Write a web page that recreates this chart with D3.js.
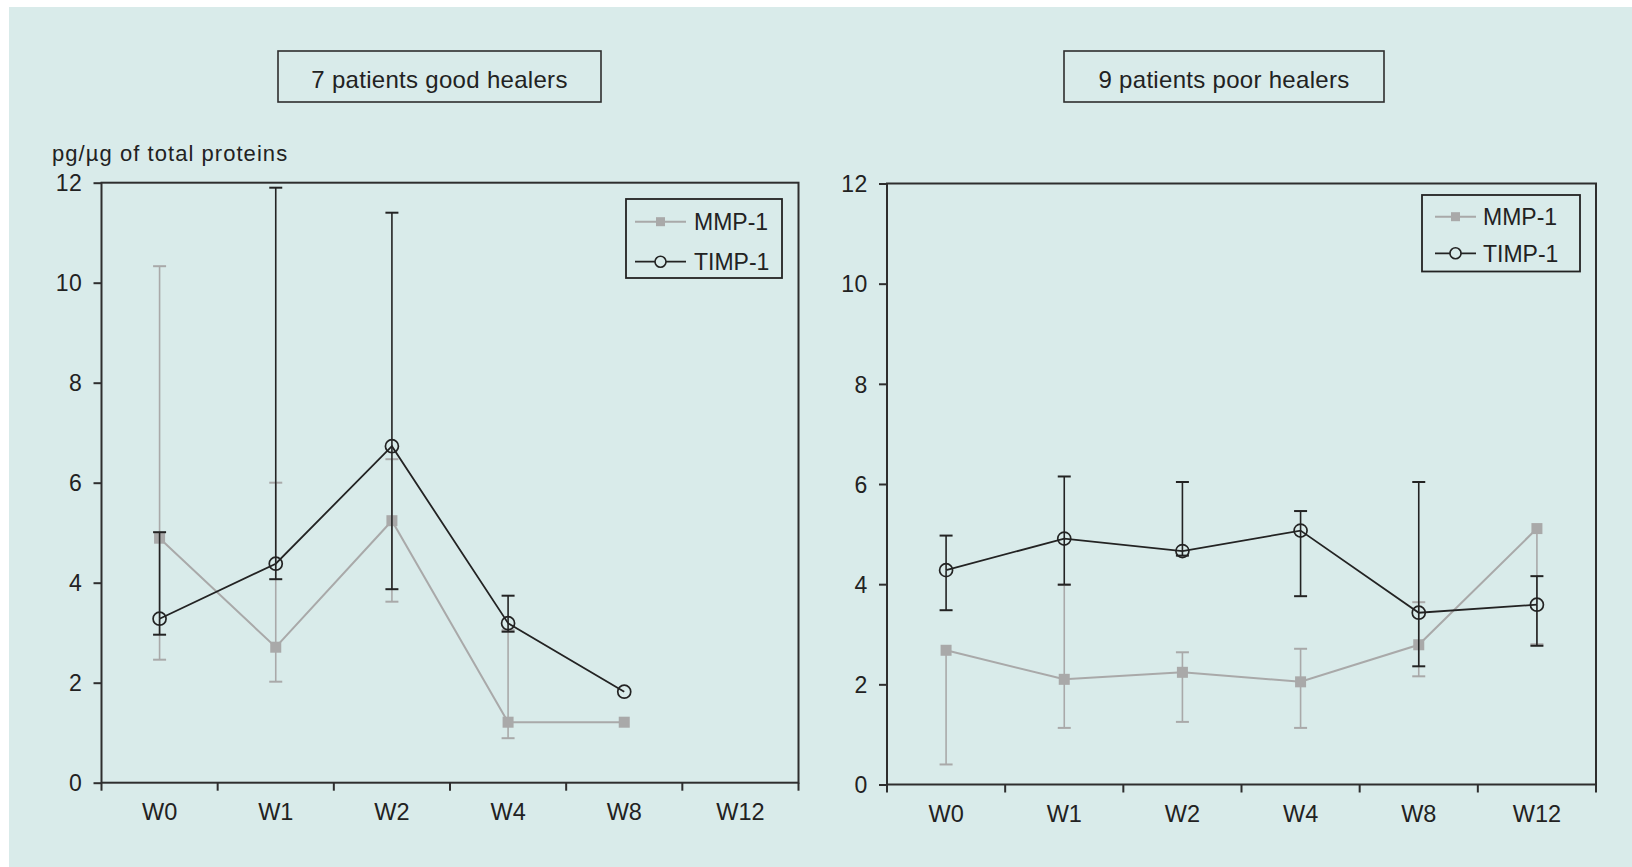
<!DOCTYPE html>
<html>
<head>
<meta charset="utf-8">
<script src="https://cdn.jsdelivr.net/npm/d3@7"></script>
<style>
  html, body { margin: 0; padding: 0; background: #ffffff; }
  svg { display: block; }
  text { font-family: "Liberation Sans", Arial, Helvetica, sans-serif; fill: #222222; }
</style>
</head>
<body>
<svg id="chart" width="1632" height="867"></svg>
<script>
// ---------- DATA ----------
const categories = ["W0", "W1", "W2", "W4", "W8", "W12"];
const yTickValues = [0, 2, 4, 6, 8, 10, 12];
const seriesNames = ["MMP-1", "TIMP-1"];

// 7 patients good healers
const goodMMP      = [4.89, 2.71, 5.24, 1.21, 1.21, null];
const goodMMPLow   = [2.46, 2.02, 3.62, 0.89, null, null];
const goodMMPHigh  = [10.33, 6.00, 6.47, 3.05, null, null];
const goodTIMP     = [3.28, 4.38, 6.73, 3.19, 1.82, null];
const goodTIMPLow  = [2.96, 4.07, 3.87, 3.02, null, null];
const goodTIMPHigh = [5.01, 11.90, 11.40, 3.74, null, null];

// 9 patients poor healers
const poorMMP      = [2.68, 2.10, 2.24, 2.05, 2.79, 5.11];
const poorMMPLow   = [0.40, 1.13, 1.25, 1.13, 2.16, 2.80];
const poorMMPHigh  = [null, 3.99, 2.64, 2.71, 3.64, null];
const poorTIMP     = [4.28, 4.91, 4.66, 5.07, 3.43, 3.59];
const poorTIMPLow  = [3.48, 3.99, 4.57, 3.76, 2.36, 2.77];
const poorTIMPHigh = [4.97, 6.15, 6.04, 5.46, 6.04, 4.16];

const panelTitles = ["7 patients good healers", "9 patients poor healers"];
const yAxisLabel = "pg/\u00b5g of total proteins";

// ---------- LAYOUT / STYLE ----------
const BG = "#d9ebea";
const GRAY = "#a9a9a9";
const BLACK = "#232323";
const AXIS = "#2e2e2e";

const svg = d3.select("#chart");
svg.append("rect").attr("x", 9).attr("y", 7).attr("width", 1632 - 9).attr("height", 867 - 7).attr("fill", BG);

const panels = [
  {
    left: 101.5, right: 798.5, top: 182.7, bottom: 782.7,
    title: panelTitles[0], titleBox: [278, 51, 601, 102],
    legendBox: [626, 199, 782, 278], legendRows: [221.7, 261.7], legendLine: [635, 686], legendText: 694,
    yLabel: yAxisLabel,
    mmp: goodMMP, mmpLow: goodMMPLow, mmpHigh: goodMMPHigh,
    timp: goodTIMP, timpLow: goodTIMPLow, timpHigh: goodTIMPHigh
  },
  {
    left: 887, right: 1596, top: 183.5, bottom: 784.5,
    title: panelTitles[1], titleBox: [1064, 51, 1384, 102],
    legendBox: [1422, 195, 1580, 271.5], legendRows: [216.7, 253.3], legendLine: [1435, 1476], legendText: 1483,
    yLabel: null,
    mmp: poorMMP, mmpLow: poorMMPLow, mmpHigh: poorMMPHigh,
    timp: poorTIMP, timpLow: poorTIMPLow, timpHigh: poorTIMPHigh
  }
];

function drawSeries(g, x, y, vals, lows, highs, color, lineW, marker) {
  const cx = i => x(categories[i]) + x.bandwidth() / 2;
  const capW = 6.5;
  const eb = g.append("g");
  vals.forEach((v, i) => {
    if (v == null) return;
    [lows[i], highs[i]].forEach(e => {
      if (e == null) return;
      eb.append("line").attr("x1", cx(i)).attr("x2", cx(i)).attr("y1", y(v)).attr("y2", y(e))
        .attr("stroke", color).attr("stroke-width", 1.6);
      eb.append("line").attr("x1", cx(i) - capW).attr("x2", cx(i) + capW).attr("y1", y(e)).attr("y2", y(e))
        .attr("stroke", color).attr("stroke-width", 2);
    });
  });
  const pts = vals.map((v, i) => v == null ? null : [cx(i), y(v)]).filter(p => p);
  g.append("path").attr("d", d3.line()(pts)).attr("fill", "none")
    .attr("stroke", color).attr("stroke-width", lineW);
  pts.forEach(p => {
    if (marker === "square") {
      g.append("rect").attr("x", p[0] - 5.5).attr("y", p[1] - 5.5).attr("width", 11).attr("height", 11).attr("fill", color);
    } else {
      g.append("circle").attr("cx", p[0]).attr("cy", p[1]).attr("r", 6.5)
        .attr("fill", "none").attr("stroke", color).attr("stroke-width", 1.7);
    }
  });
}

panels.forEach(p => {
  const g = svg.append("g");
  const x = d3.scaleBand().domain(categories).range([p.left, p.right]).padding(0);
  const y = d3.scaleLinear().domain([0, 12]).range([p.bottom, p.top]);

  // title box
  const [tx0, ty0, tx1, ty1] = p.titleBox;
  g.append("rect").attr("x", tx0).attr("y", ty0).attr("width", tx1 - tx0).attr("height", ty1 - ty0)
    .attr("fill", "none").attr("stroke", AXIS).attr("stroke-width", 1.6);
  g.append("text").attr("x", (tx0 + tx1) / 2).attr("y", 87.5).attr("text-anchor", "middle")
    .style("font-size", "24px").style("letter-spacing", "0.3px").text(p.title);

  if (p.yLabel) {
    g.append("text").attr("x", 52).attr("y", 160.5).style("font-size", "22px")
      .style("letter-spacing", "1.05px").text(p.yLabel);
  }

  // y axis
  const ya = g.append("g").attr("transform", `translate(${p.left},0)`)
    .call(d3.axisLeft(y).tickValues(yTickValues).tickSize(8).tickPadding(11).tickSizeOuter(0));
  ya.select(".domain").remove();
  ya.selectAll(".tick line").attr("stroke", AXIS).attr("stroke-width", 2);
  ya.selectAll(".tick text").style("font-size", "23px").style("font-family", "'Liberation Sans', Arial, sans-serif")
    .style("letter-spacing", "0.6px").attr("fill", "#222222").attr("dy", "0.36em");

  // x axis labels (band centres)
  const xa = g.append("g").attr("transform", `translate(0,${p.bottom})`)
    .call(d3.axisBottom(x).tickSize(0).tickPadding(21));
  xa.select(".domain").remove();
  xa.selectAll(".tick text").style("font-size", "23.5px").style("font-family", "'Liberation Sans', Arial, sans-serif")
    .attr("fill", "#222222");

  // x tick marks at band boundaries
  const edges = categories.map(c => x(c)).concat([x.range()[1]]);
  g.append("g").selectAll("line").data(edges).join("line")
    .attr("x1", d => d).attr("x2", d => d).attr("y1", p.bottom).attr("y2", p.bottom + 8)
    .attr("stroke", AXIS).attr("stroke-width", 2);

  // frame
  g.append("rect").attr("x", p.left).attr("y", p.top).attr("width", p.right - p.left).attr("height", p.bottom - p.top)
    .attr("fill", "none").attr("stroke", AXIS).attr("stroke-width", 2);

  // data
  drawSeries(g, x, y, p.mmp, p.mmpLow, p.mmpHigh, GRAY, 2, "square");
  drawSeries(g, x, y, p.timp, p.timpLow, p.timpHigh, BLACK, 1.8, "circle");

  // legend
  const [lx0, ly0, lx1, ly1] = p.legendBox;
  g.append("rect").attr("x", lx0).attr("y", ly0).attr("width", lx1 - lx0).attr("height", ly1 - ly0)
    .attr("fill", "none").attr("stroke", BLACK).attr("stroke-width", 1.8);
  seriesNames.forEach((name, i) => {
    const ry = p.legendRows[i];
    const col = i === 0 ? GRAY : BLACK;
    const mx = (p.legendLine[0] + p.legendLine[1]) / 2;
    g.append("line").attr("x1", p.legendLine[0]).attr("x2", p.legendLine[1]).attr("y1", ry).attr("y2", ry)
      .attr("stroke", col).attr("stroke-width", i === 0 ? 2 : 1.8);
    if (i === 0) {
      g.append("rect").attr("x", mx - 4.5).attr("y", ry - 4.5).attr("width", 9).attr("height", 9).attr("fill", col);
    } else {
      g.append("circle").attr("cx", mx).attr("cy", ry).attr("r", 5.5).attr("fill", BG)
        .attr("stroke", col).attr("stroke-width", 1.6);
    }
    g.append("text").attr("x", p.legendText).attr("y", ry + 8.2).style("font-size", "23px").text(name);
  });
});
</script>
</body>
</html>
